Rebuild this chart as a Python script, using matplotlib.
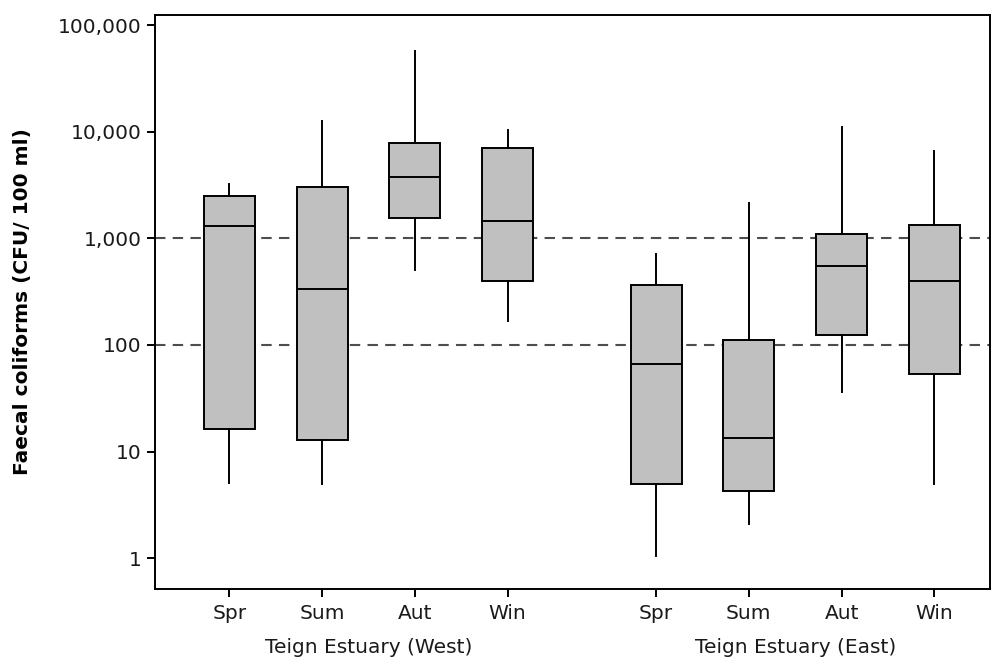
import matplotlib.pyplot as plt
from matplotlib.ticker import FuncFormatter

# season labels and box stats (CFU/100 ml)
seasons = ["Spr", "Sum", "Aut", "Win", "Spr", "Sum", "Aut", "Win"]
groups = ["Teign Estuary (West)", "Teign Estuary (East)"]
whislo = [5.1, 5.0, 500, 167, 1.04, 2.07, 36, 5.0]
q1 = [16.2, 12.7, 1540, 400, 4.94, 4.22, 124, 53]
med = [1300, 338, 3790, 1470, 66, 13.3, 548, 400]
q3 = [2500, 3060, 7850, 6980, 363, 111, 1090, 1345]
whishi = [3240, 12500, 57300, 10450, 710, 2130, 11000, 6670]
ref_lines = [100, 1000]

positions = [1, 2, 3, 4, 5.6, 6.6, 7.6, 8.6]

stats = []
for i in range(len(seasons)):
    stats.append({'whislo': whislo[i], 'q1': q1[i], 'med': med[i],
                  'q3': q3[i], 'whishi': whishi[i], 'fliers': []})

fig = plt.figure(figsize=(9.95, 6.62), dpi=100)
ax = fig.add_axes([0.156, 0.111, 0.839, 0.867])

for v in ref_lines:
    ax.axhline(v, color='#4d4d4d', lw=1.5, ls=(0, (5, 3.5)), zorder=1)

ax.bxp(stats, positions=positions, widths=0.55, showcaps=False,
       patch_artist=True,
       boxprops=dict(facecolor='#c0c0c0', edgecolor='black', linewidth=1.4),
       medianprops=dict(color='black', linewidth=1.4),
       whiskerprops=dict(color='black', linewidth=1.4),
       zorder=2)

ax.set_yscale('log')
ax.set_ylim(0.518, 126000)
ax.set_xlim(0.2, 9.2)
ax.set_yticks([1, 10, 100, 1000, 10000, 100000])
ax.yaxis.set_major_formatter(FuncFormatter(lambda v, p: '{:,.0f}'.format(v)))
ax.yaxis.set_minor_locator(plt.NullLocator())
ax.set_xticks(positions)
ax.set_xticklabels(seasons)

ax.tick_params(axis='both', direction='out', length=6, width=1.4,
               labelsize=14.5, colors='black', labelcolor='#1a1a1a')
ax.tick_params(axis='x', pad=5)
ax.tick_params(axis='y', pad=4)
for s in ax.spines.values():
    s.set_linewidth(1.4)

ax.set_ylabel("Faecal coliforms (CFU/ 100 ml)", fontsize=14.5,
              fontweight='bold')
ax.yaxis.set_label_coords(-0.148, 0.5)

ax.text(2.5, -0.102, groups[0], transform=ax.get_xaxis_transform(),
        ha='center', va='center', fontsize=14.5, color='#1a1a1a')
ax.text(7.1, -0.102, groups[1], transform=ax.get_xaxis_transform(),
        ha='center', va='center', fontsize=14.5, color='#1a1a1a')

fig.savefig('out.png', dpi=100)
